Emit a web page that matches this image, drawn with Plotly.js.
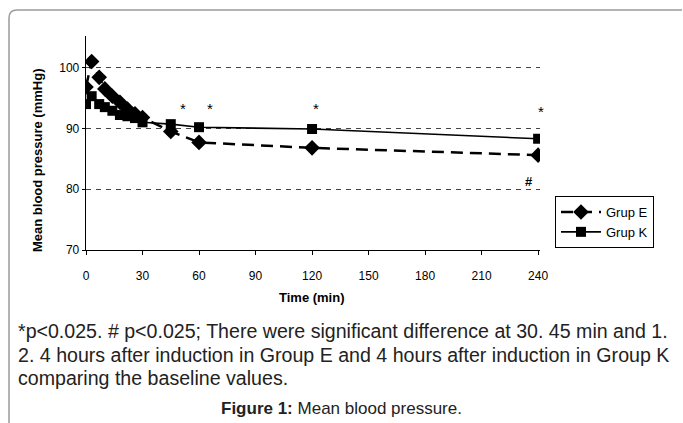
<!DOCTYPE html>
<html>
<head>
<meta charset="utf-8">
<script src="https://cdn.plot.ly/plotly-3.0.1.min.js"></script>
<style>html,body{margin:0;padding:0;background:#fff;}#chart{width:683px;height:423px;}</style>
</head>
<body>
<div id="chart"></div>
<script>
// Data
const timeMin = [0, 3, 7, 10, 14, 18, 22, 26, 30, 45, 60, 120, 240];
const grupE = [96.8, 101.0, 98.4, 96.5, 95.3, 94.3, 93.2, 92.4, 91.8, 89.5, 87.7, 86.8, 85.6];
const grupK = [94.0, 95.3, 94.0, 93.5, 92.9, 92.2, 92.0, 91.7, 91.0, 90.7, 90.2, 89.9, 88.3];
const seriesNames = ["Grup E", "Grup K"];
const xTicks = [0, 30, 60, 90, 120, 150, 180, 210, 240];
const yTicks = [70, 80, 90, 100];
const starTimes = [51.5, 66, 122, 240];
const starValues = [93.3, 93.3, 93.3, 92.8];
const hashTime = [235];
const hashValue = [81.2];
const captionLines = [
  "*p<0.025. # p<0.025; There were significant difference at 30. 45 min and 1.",
  "2. 4 hours after induction in Group E and 4 hours after induction in Group K",
  "comparing the baseline values."
];

const L = 86, T = 36, W = 454, H = 214;
const px = v => (v - L) / W;
const py = v => (T + H - v) / H;

const traces = [
  {x: timeMin, y: grupE, name: seriesNames[0], type: 'scatter', mode: 'lines+markers',
   line: {color: '#000', width: 2.5, dash: '12px,7px'},
   marker: {symbol: 'diamond', size: 12, color: '#000'}},
  {x: timeMin, y: grupK, name: seriesNames[1], type: 'scatter', mode: 'lines+markers',
   line: {color: '#000', width: 1.6},
   marker: {symbol: 'square', size: 10, color: '#000'}}
];

const ann = [];
starTimes.forEach((t, i) => ann.push({x: t, y: starValues[i], xref: 'x', yref: 'y', text: '*',
  xshift: t >= 240 ? 3 : 0,
  showarrow: false, font: {family: 'Liberation Sans, Arial', size: 15, color: '#000'}}));
hashTime.forEach((t, i) => ann.push({x: t, y: hashValue[i], xref: 'x', yref: 'y', text: '<b>#</b>',
  showarrow: false, font: {family: 'Liberation Sans, Arial', size: 13, color: '#000'}}));
ann.push({x: px(37), y: py(161), xref: 'paper', yref: 'paper', text: '<b>Mean blood pressure (mmHg)</b>',
  xanchor: 'center', yanchor: 'middle',
  textangle: -90, showarrow: false, font: {family: 'Liberation Sans, Arial', size: 13, color: '#000'}});
ann.push({x: px(312), y: py(297), xref: 'paper', yref: 'paper', text: '<b>Time (min)</b>',
  xanchor: 'center', yanchor: 'middle',
  showarrow: false, font: {family: 'Liberation Sans, Arial', size: 13, color: '#000'}});
const capY = [331, 355, 378];
captionLines.forEach((s, i) => ann.push({x: px(16), y: py(capY[i]), xref: 'paper', yref: 'paper', text: s,
  xanchor: 'left', yanchor: 'middle', showarrow: false,
  font: {family: 'Liberation Sans, Arial', size: 19.6, color: '#222'}}));
ann.push({x: px(341), y: py(408), xref: 'paper', yref: 'paper', text: '<b>Figure 1:</b> Mean blood pressure.',
  xanchor: 'center', yanchor: 'middle', showarrow: false,
  font: {family: 'Liberation Sans, Arial', size: 17, color: '#222'}});

const layout = {
  width: 683, height: 423,
  margin: {l: L, r: 683 - L - W, t: T, b: 423 - T - H, pad: 0},
  paper_bgcolor: '#fff', plot_bgcolor: '#fff',
  font: {family: 'Liberation Sans, Arial', size: 12, color: '#000'},
  xaxis: {range: [0, 241], tickvals: xTicks, ticks: 'outside', ticklen: 4, tickcolor: '#000',
    showgrid: false, zeroline: false, showline: true, linecolor: '#000', linewidth: 1.3,
    tickfont: {size: 12}, ticklabelstandoff: 10, fixedrange: true},
  yaxis: {range: [70, 105.2], tickvals: yTicks, ticks: 'outside', ticklen: 3, tickcolor: '#000',
    showgrid: true, gridcolor: '#444', gridwidth: 1, griddash: '5px,5px',
    zeroline: false, showline: true, linecolor: '#000', linewidth: 1.3, tickfont: {size: 12}, fixedrange: true},
  showlegend: true,
  legend: {x: px(555), y: py(196), xanchor: 'left', yanchor: 'top', bgcolor: '#fff',
    bordercolor: '#000', borderwidth: 1, font: {size: 13, color: '#000'}, tracegroupgap: 0, itemwidth: 40},
  annotations: ann,
  shapes: [{type: 'path', xref: 'paper', yref: 'paper',
    path: `M ${px(9)} ${py(430)} L ${px(9)} ${py(18)} Q ${px(9)} ${py(10)} ${px(17)} ${py(10)} L ${px(682)} ${py(10)}`,
    line: {color: '#9a9a9a', width: 1.5}}]
};

Plotly.newPlot('chart', traces, layout, {staticPlot: true, displayModeBar: false});
</script>
</body>
</html>
